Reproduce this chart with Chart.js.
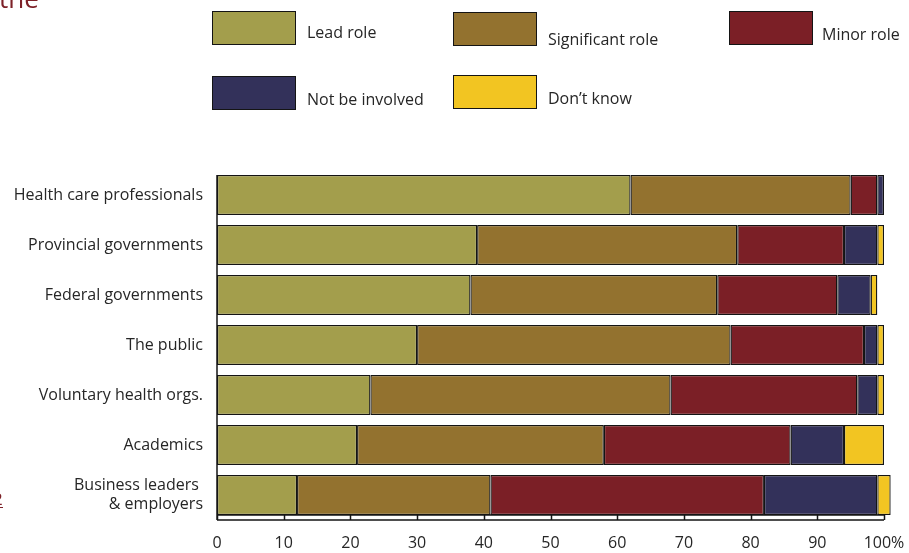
<!DOCTYPE html>
<html>
<head>
<meta charset="utf-8">
<script src="https://cdn.jsdelivr.net/npm/chart.js@4/dist/chart.umd.min.js"></script>
<style>
  html, body { margin: 0; padding: 0; background: #fff; }
  #wrap { position: relative; width: 909px; height: 553px; }
</style>
</head>
<body>
<div id="wrap"><canvas id="roles"></canvas></div>
<script>
// ==============================
// DATA
// ==============================
const groups = [
  "Health care professionals",
  "Provincial governments",
  "Federal governments",
  "The public",
  "Voluntary health orgs.",
  "Academics",
  ["Business leaders ", "& employers"]
];

const leadRole        = [62, 39, 38, 30, 23, 21, 12];
const significantRole = [33, 39, 37, 47, 45, 37, 29];
const minorRole       = [4, 16, 18, 20, 28, 28, 41];
const notInvolved     = [1, 5, 5, 2, 3, 8, 17];
const dontKnow        = [0, 1, 1, 1, 1, 6, 2];

const seriesNames  = ["Lead role", "Significant role", "Minor role", "Not be involved", "Don\u2019t know"];
const seriesColors = ["#a39e4c", "#93722f", "#7b1f26", "#33315a", "#f2c522"];

const xTicks = [0, 10, 20, 30, 40, 50, 60, 70, 80, 90, 100];

// ==============================
// STYLE
// ==============================
const FONT = "'Open Sans', 'Noto Sans', sans-serif";
const TEXT = "#262626";
const EDGE = "#141414";

// legend boxes: x, y of box, text x, text y (middle)
const legendSlots = [
  { x: 212, y: 11, tx: 307, ty: 33 },
  { x: 453, y: 12, tx: 548, ty: 40 },
  { x: 729, y: 11, tx: 822, ty: 35 },
  { x: 212, y: 76, tx: 307, ty: 100 },
  { x: 453, y: 75, tx: 548, ty: 99 }
];

// ==============================
// PLUGINS
// ==============================
const legendBoxes = {
  id: "legendBoxes",
  afterDraw(chart) {
    const ctx = chart.ctx;
    ctx.save();
    chart.data.datasets.forEach((ds, i) => {
      const s = legendSlots[i];
      ctx.fillStyle = ds.backgroundColor;
      ctx.fillRect(s.x, s.y, 84, 34);
      ctx.strokeStyle = EDGE;
      ctx.lineWidth = 1;
      ctx.strokeRect(s.x + 0.5, s.y + 0.5, 83, 33);
      ctx.fillStyle = TEXT;
      ctx.font = "16px " + FONT;
      ctx.textBaseline = "middle";
      ctx.textAlign = "left";
      ctx.fillText(ds.label, s.tx, s.ty);
    });

    // page text cut by the frame
    ctx.fillStyle = "#7d2128";
    ctx.font = "26px " + FONT;
    ctx.textBaseline = "alphabetic";
    ctx.fillText("the", -1, 8);
    ctx.font = "17px " + FONT;
    ctx.fillText("2", -7, 505);
    ctx.fillRect(0, 507, 3, 1);
    ctx.restore();
  }
};

// ruler under the bars + left axis line
const ruler = {
  id: "ruler",
  afterDatasetsDraw(chart) {
    const ctx = chart.ctx;
    const x = chart.scales.x;
    const area = chart.chartArea;
    const firstBar = chart.getDatasetMeta(0).data[0];
    const top = firstBar.y - firstBar.height / 2;
    const y1 = area.bottom - 5, y2 = area.bottom;
    const left = x.getPixelForValue(0), right = x.getPixelForValue(100);

    ctx.save();
    ctx.strokeStyle = EDGE;
    ctx.lineWidth = 1.5;
    ctx.beginPath();
    ctx.moveTo(left, top);
    ctx.lineTo(left, y2);
    ctx.moveTo(left, y1);
    ctx.lineTo(right, y1);
    ctx.moveTo(left, y2);
    ctx.lineTo(right, y2);
    xTicks.forEach(v => {
      const px = Math.round(x.getPixelForValue(v)) + 0.5;
      ctx.moveTo(px, y1);
      ctx.lineTo(px, y2);
    });
    ctx.stroke();
    ctx.restore();
  }
};

// ==============================
// CHART
// ==============================
const datasets = [leadRole, significantRole, minorRole, notInvolved, dontKnow].map((vals, i) => ({
  label: seriesNames[i],
  data: vals,
  backgroundColor: seriesColors[i],
  borderColor: EDGE,
  borderWidth: 1.3,
  borderSkipped: false,
  barPercentage: 0.8,
  categoryPercentage: 1,
  clip: false
}));

new Chart(document.getElementById("roles"), {
  type: "bar",
  data: { labels: groups, datasets },
  options: {
    indexAxis: "y",
    responsive: true,
    maintainAspectRatio: false,
    animation: false,
    layout: { padding: { top: 170, right: 25, left: 0, bottom: 0 } },
    plugins: {
      legend: { display: false },
      tooltip: { enabled: false }
    },
    scales: {
      x: {
        stacked: true,
        min: 0,
        max: 100,
        afterFit: s => {
          s.height = 33;
          s.paddingLeft = 0;
          s.paddingRight = 0;
        },
        afterBuildTicks: s => { s.ticks = xTicks.map(v => ({ value: v })); },
        grid: { display: false, drawTicks: false },
        border: { display: false },
        ticks: {
          padding: 14,
          maxRotation: 0,
          color: TEXT,
          font: { family: FONT, size: 16 },
          callback: v => v === 100 ? "100%" : v
        }
      },
      y: {
        stacked: true,
        afterFit: s => { s.width = 217; },
        grid: { display: false, drawTicks: false },
        border: { display: false },
        ticks: {
          padding: 14,
          color: TEXT,
          font: { family: FONT, size: 16 }
        }
      }
    }
  },
  plugins: [legendBoxes, ruler]
});
</script>
</body>
</html>
